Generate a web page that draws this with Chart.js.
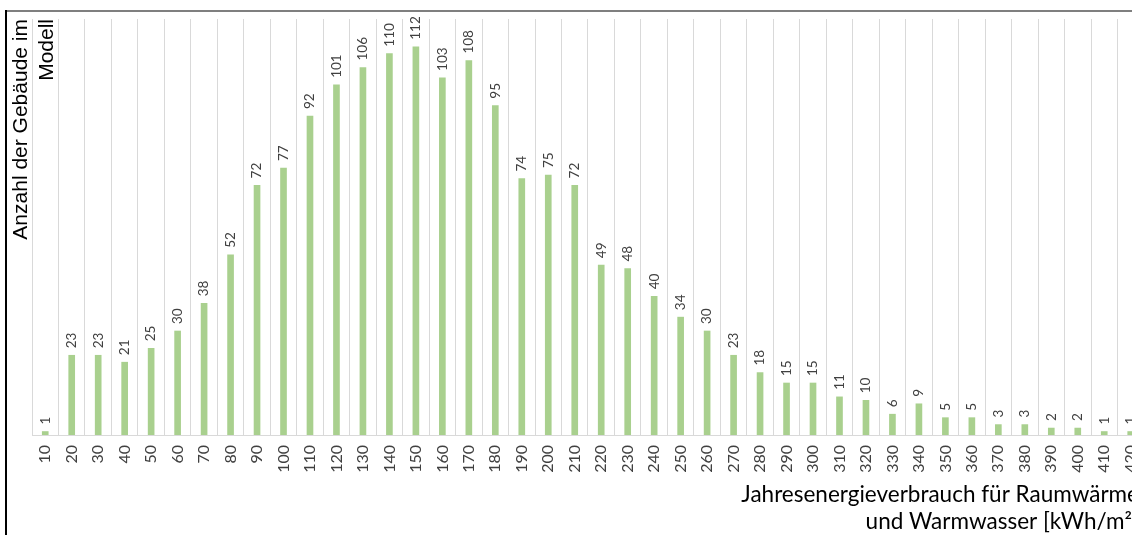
<!DOCTYPE html>
<html>
<head>
<meta charset="utf-8">
<script src="https://cdn.jsdelivr.net/npm/chart.js@4/dist/chart.umd.min.js"></script>
<style>
  html, body { margin: 0; padding: 0; background: #fff; overflow: hidden; }
  #wrap { position: absolute; left: 0; top: 0; width: 1160px; height: 535px; }
  #frameTop { position: absolute; left: 6px; top: 10px; width: 1150px; height: 0; border-top: 2px solid #7f7f7f; }
  #frameLeft { position: absolute; left: 5px; top: 10px; width: 0; height: 530px; border-left: 2px solid #000; }
</style>
</head>
<body>
<div id="wrap"><canvas id="chart" width="1160" height="535"></canvas></div>
<div id="frameTop"></div>
<div id="frameLeft"></div>
<script>
const categories = ['10', '20', '30', '40', '50', '60', '70', '80', '90', '100',
  '110', '120', '130', '140', '150', '160', '170', '180', '190', '200',
  '210', '220', '230', '240', '250', '260', '270', '280', '290', '300',
  '310', '320', '330', '340', '350', '360', '370', '380', '390', '400',
  '410', '420'];
const counts = [1, 23, 23, 21, 25, 30, 38, 52, 72, 77,
  92, 101, 106, 110, 112, 103, 108, 95, 74, 75,
  72, 49, 48, 40, 34, 30, 23, 18, 15, 15,
  11, 10, 6, 9, 5, 5, 3, 3, 2, 2,
  1, 1];
const yTitle = ['Anzahl der Gebäude im', 'Modell'];
const xTitle = ['Jahresenergieverbrauch für Raumwärme', 'und Warmwasser [kWh/m²]'];

// value labels written vertically above each bar
const barLabels = {
  id: 'barLabels',
  afterDatasetsDraw(chart) {
    const ctx = chart.ctx;
    const meta = chart.getDatasetMeta(0);
    ctx.save();
    ctx.font = '13.5px Lato';
    ctx.fillStyle = '#404040';
    ctx.textAlign = 'left';
    ctx.textBaseline = 'middle';
    meta.data.forEach((bar, i) => {
      ctx.save();
      ctx.translate(bar.x, bar.y - 7);
      ctx.rotate(-Math.PI / 2);
      ctx.fillText(String(counts[i]), 0, 0);
      ctx.restore();
    });
    ctx.restore();
  }
};

// axis titles: y title at the top left (partly over the plot),
// x title right aligned under the tick labels
const axisTitles = {
  id: 'axisTitles',
  afterDraw(chart) {
    const ctx = chart.ctx;
    const top = chart.chartArea.top;
    ctx.save();
    ctx.fillStyle = '#000';
    ctx.textBaseline = 'alphabetic';
    ctx.textAlign = 'right';
    ctx.font = '21px "Liberation Sans"';
    yTitle.forEach((line, i) => {
      ctx.save();
      ctx.translate(27 + i * 26, top);
      ctx.rotate(-Math.PI / 2);
      ctx.fillText(line, 0, 0);
      ctx.restore();
    });
    ctx.font = '22.5px Lato';
    xTitle.forEach((line, i) => {
      ctx.fillText(line, 1139, 502 + i * 27);
    });
    ctx.restore();
  }
};

new Chart(document.getElementById('chart'), {
  type: 'bar',
  data: {
    labels: categories,
    datasets: [{
      data: counts,
      backgroundColor: '#a9d08e',
      barThickness: 6
    }]
  },
  options: {
    responsive: false,
    animation: false,
    layout: { padding: { left: 32, right: 7, top: 19, bottom: 0 } },
    plugins: { legend: { display: false }, tooltip: { enabled: false } },
    scales: {
      x: {
        grid: { offset: true, drawTicks: false, color: '#d9d9d9', lineWidth: 1 },
        border: { display: true, color: '#d9d9d9' },
        ticks: {
          minRotation: 90, maxRotation: 90, padding: 10, autoSkip: false,
          color: '#404040', font: { family: 'Lato', size: 16 }
        },
        afterFit(scale) { scale.height = 100; }
      },
      y: {
        display: false,
        min: 0,
        max: 120
      }
    }
  },
  plugins: [barLabels, axisTitles]
});
</script>
</body>
</html>
